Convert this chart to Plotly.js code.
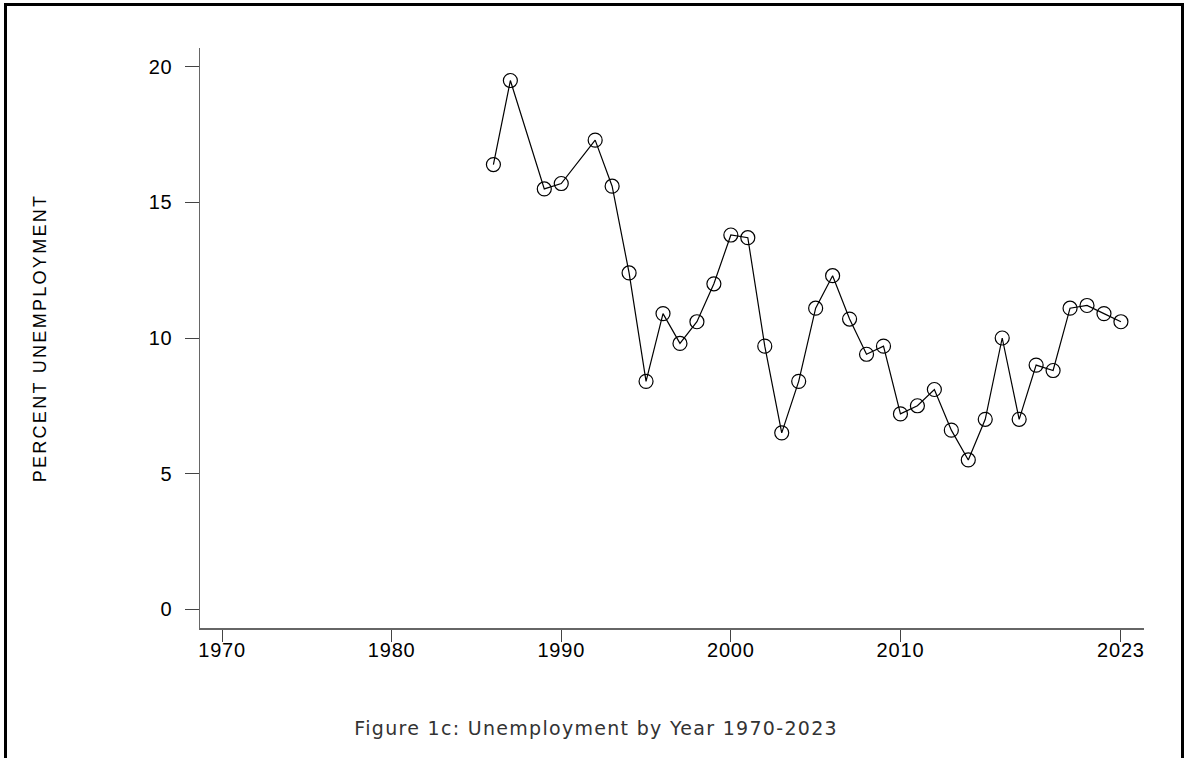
<!DOCTYPE html>
<html>
<head>
<meta charset="utf-8">
<script src="https://cdn.plot.ly/plotly-3.0.1.min.js"></script>
<style>
  html, body { margin: 0; padding: 0; background: #fff; overflow: hidden; }
  #frame {
    position: absolute; left: 4px; top: 3px; width: 1180px; height: 800px;
    border: 3px solid #000; box-sizing: border-box; pointer-events: none; z-index: 5;
  }
  #chart { position: absolute; left: 0; top: 0; width: 1187px; height: 758px; }
  /* slightly open lettering for axis text */
  #chart .xtick text, #chart .ytick text { letter-spacing: 0.8px; }
  #chart .ytitle { letter-spacing: 2.3px; }
  #chart .annotation-text { letter-spacing: 1.3px; }
</style>
</head>
<body>
<div id="chart"></div>
<div id="frame"></div>
<script>
// Unemployment rate by year (percent); 1988 and 1991 are not reported
const years = [1986, 1987, 1989, 1990, 1992, 1993, 1994, 1995, 1996, 1997, 1998, 1999,
               2000, 2001, 2002, 2003, 2004, 2005, 2006, 2007, 2008, 2009, 2010, 2011,
               2012, 2013, 2014, 2015, 2016, 2017, 2018, 2019, 2020, 2021, 2022, 2023];
const unemployment = [16.4, 19.5, 15.5, 15.7, 17.3, 15.6, 12.4, 8.4, 10.9, 9.8, 10.6, 12.0,
                      13.8, 13.7, 9.7, 6.5, 8.4, 11.1, 12.3, 10.7, 9.4, 9.7, 7.2, 7.5,
                      8.1, 6.6, 5.5, 7.0, 10.0, 7.0, 9.0, 8.8, 11.1, 11.2, 10.9, 10.6];
const xTickYears = [1970, 1980, 1990, 2000, 2010, 2023];
const yTickValues = [0, 5, 10, 15, 20];
const yAxisLabel = 'PERCENT UNEMPLOYMENT';
const caption = 'Figure 1c: Unemployment by Year 1970-2023';

const trace = {
  x: years,
  y: unemployment,
  type: 'scatter',
  mode: 'lines+markers',
  line: { color: '#000', width: 1.2 },
  marker: { symbol: 'circle-open', size: 14, color: '#000', line: { width: 1.2, color: '#000' } },
  hoverinfo: 'x+y'
};

const tickFont = { family: 'Liberation Sans, Arial, sans-serif', size: 20, color: '#000' };

const layout = {
  width: 1187,
  height: 758,
  margin: { l: 200, r: 43, t: 48, b: 130 },
  paper_bgcolor: '#fff',
  plot_bgcolor: '#fff',
  showlegend: false,
  xaxis: {
    range: [1968.7, 2024.36],
    tickvals: xTickYears,
    ticktext: xTickYears.map(String),
    ticks: 'outside', ticklen: 12, tickwidth: 1, tickcolor: '#444',
    showline: true, linecolor: '#666', linewidth: 1.5,
    showgrid: false, zeroline: false,
    tickfont: tickFont,
    ticklabelstandoff: -9
  },
  yaxis: {
    range: [-0.7, 20.7],
    tickvals: yTickValues,
    ticks: 'outside', ticklen: 14, tickwidth: 1, tickcolor: '#444',
    showline: true, linecolor: '#666', linewidth: 1.5,
    showgrid: false, zeroline: false,
    tickfont: tickFont,
    ticklabelstandoff: 8,
    title: {
      text: yAxisLabel,
      font: { family: 'Liberation Sans, Arial, sans-serif', size: 18, color: '#000' },
      standoff: 99
    }
  },
  annotations: [{
    text: caption,
    xref: 'paper', yref: 'paper',
    x: 0.419, y: -0.1724,
    xanchor: 'center', yanchor: 'middle',
    showarrow: false,
    font: { family: 'DejaVu Sans, sans-serif', size: 19, color: '#333' }
  }]
};

Plotly.newPlot('chart', [trace], layout, { displayModeBar: false, staticPlot: true });
</script>
</body>
</html>
